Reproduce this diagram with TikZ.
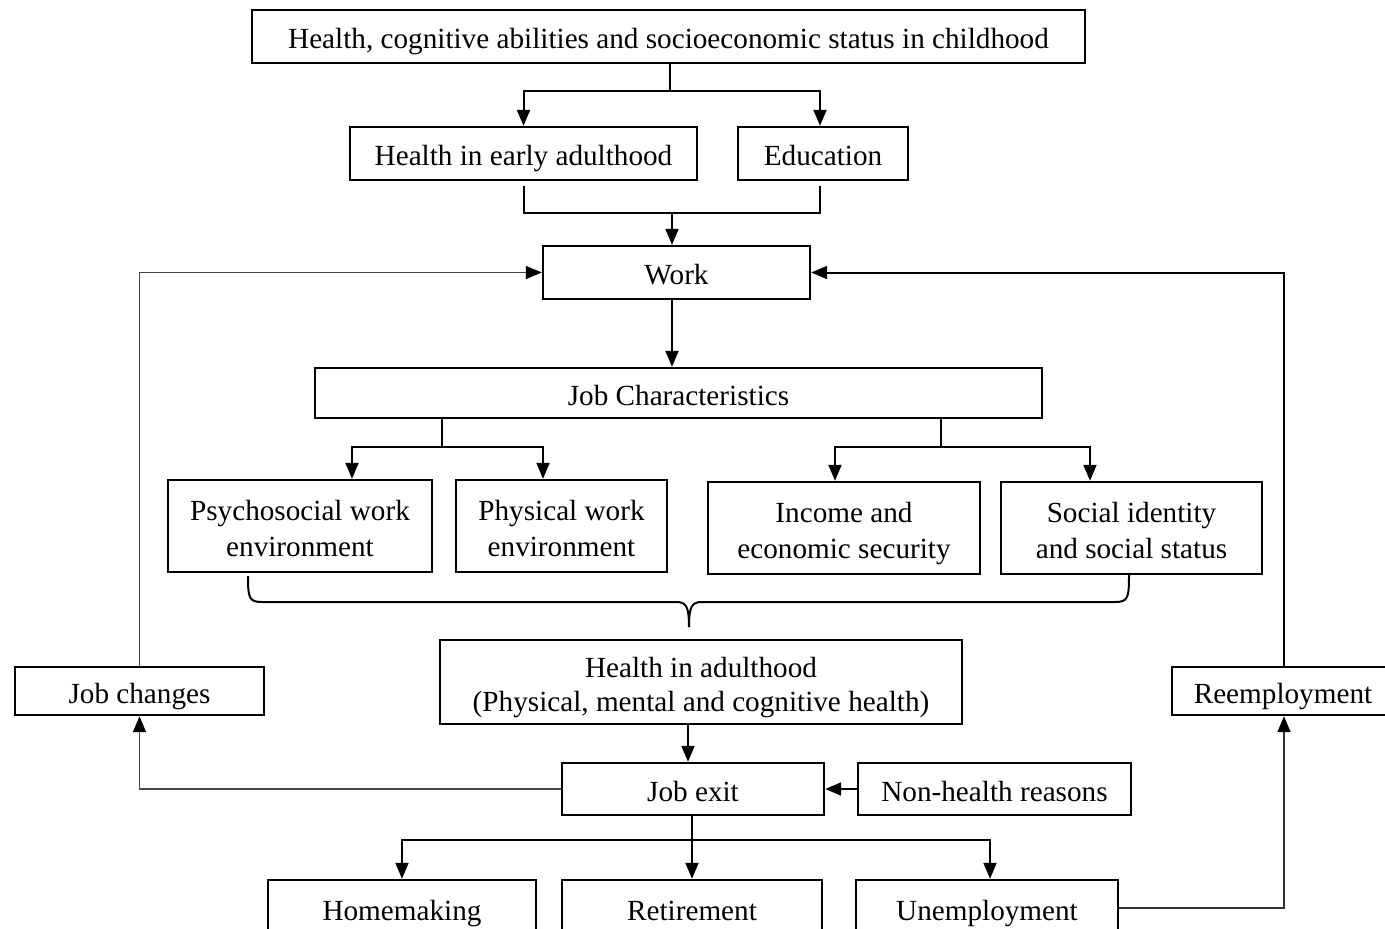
\documentclass[tikz,border=0pt]{standalone}
\usepackage{fontspec}
\setmainfont{Liberation Serif}
\usetikzlibrary{arrows.meta}
\newcommand\vs{\rule[-8pt]{0pt}{40pt}}
\newcommand\vt{\rule[-8pt]{0pt}{28pt}}
\begin{document}
\begin{tikzpicture}[x=1pt,y=-1pt,
  box/.style={draw, line width=2.4pt, inner sep=0pt, align=center, font=\fontsize{29.2}{36}\selectfont},
  ln/.style={line width=2pt},
  arr/.style={line width=2pt, -{Triangle[length=16pt,width=13pt]}},
  lightarr/.style={line width=1.3pt, draw=black!72, -{Triangle[length=16pt,width=13pt,fill=black,color=black]}},
  midarr/.style={line width=1.6pt, draw=black!80, -{Triangle[length=16pt,width=13pt,fill=black,color=black]}},
]
\path[use as bounding box] (0,0) rectangle (1385,929);
\fill[white] (0,0) rectangle (1385,929);
\clip (0,0) rectangle (1385,929);

% nodes
\node[box, minimum width=833pt, minimum height=53pt] (top) at (668.5,36.5) {\vs Health, cognitive abilities and socioeconomic status in childhood};
\node[box, minimum width=347pt, minimum height=53pt] (hea) at (523.5,153.5) {\vs Health in early adulthood};
\node[box, minimum width=170pt, minimum height=53pt] (edu) at (823,153.5) {\vs Education};
\node[box, minimum width=267pt, minimum height=53pt] (work) at (676.5,272.5) {\vs Work};
\node[box, minimum width=727pt, minimum height=50pt] (jc) at (678.5,393) {\vs Job Characteristics};
\node[box, minimum width=264pt, minimum height=92pt] (psy) at (300,526) {\vs Psychosocial work\\\vt environment};
\node[box, minimum width=211pt, minimum height=92pt] (phy) at (561.5,526) {\vs Physical work\\\vt environment};
\node[box, minimum width=272pt, minimum height=92pt] (inc) at (844,528) {\vs Income and\\\vt economic security};
\node[box, minimum width=261pt, minimum height=92pt] (soc) at (1131.5,528) {\vs Social identity\\\vt and social status};
\node[box, minimum width=522pt, minimum height=84pt, font=\fontsize{29.2}{34}\selectfont] (ha) at (701,682) {\vs Health in adulthood\\\vt (Physical, mental and cognitive health)};
\node[box, minimum width=262pt, minimum height=52pt] (jx) at (693,789) {\vs Job exit};
\node[box, minimum width=273pt, minimum height=52pt] (nh) at (994.5,789) {\vs Non-health reasons};
\node[box, minimum width=249pt, minimum height=48pt] (jch) at (139.5,691) {\vs Job changes};
\node[box, minimum width=228pt, minimum height=48pt] (re) at (1286,691) {\hspace*{-6pt}\vs Reemployment};
\node[box, minimum width=268pt, minimum height=56pt] (home) at (402,908) {\vs Homemaking};
\node[box, minimum width=260pt, minimum height=56pt] (ret) at (692,908) {\vs Retirement};
\node[box, minimum width=262pt, minimum height=56pt] (une) at (987,908) {\vs Unemployment};

% top branching
\coordinate (b1) at (670,91);
\draw[ln] (top.south -| b1) -- (b1);
\draw[arr] (b1) -| (hea.north);
\draw[arr] (b1) -| ([xshift=-3pt]edu.north);

% merge into work
\coordinate (m1) at (672,213);
\draw[ln] ([yshift=-5pt]hea.south) |- (m1);
\draw[ln] ([xshift=-3pt,yshift=-5pt]edu.south) |- (m1);
\draw[arr] (m1) -- (m1 |- work.north);

% work to job characteristics
\draw[arr] ([xshift=-4.5pt]work.south) -- ([xshift=-4.5pt]work.south |- jc.north);

% job characteristics branches
\coordinate (b2) at (442,447);
\draw[ln] (jc.south -| b2) -- (b2);
\draw[arr] (b2) -| ([xshift=52pt]psy.north);
\draw[arr] (b2) -| ([xshift=-18.5pt]phy.north);
\coordinate (b3) at (941,447);
\draw[ln] (jc.south -| b3) -- (b3);
\draw[arr] (b3) -| ([xshift=-9pt]inc.north);
\draw[arr] (b3) -| ([xshift=-41.5pt]soc.north);

% brace
\draw[ln] (248,576) .. controls (248,598) and (249,602) .. (262,602) -- (676,602) .. controls (686,602) and (689,606) .. (689,627);
\draw[ln] (1129,575) .. controls (1129,598) and (1128,602) .. (1115,602) -- (702,602) .. controls (692,602) and (689,606) .. (689,627);

% health in adulthood to job exit
\draw[arr] ([xshift=-13pt]ha.south) -- ([xshift=-13pt]ha.south |- jx.north);
\draw[arr] (nh.west) -- (jx.east);

% job changes loop
\draw[lightarr] (jx.west) -| (jch.south);
\draw[lightarr] (jch.north) |- (work.west);

% reemployment loop
\draw[arr] ([xshift=-2pt]re.north) |- (work.east);
\draw[midarr] (une.east) -| ([xshift=-2pt]re.south);

% job exit to outcomes
\coordinate (b4) at (692,840);
\draw[arr] (jx.south -| b4) -- (b4 |- ret.north);
\draw[arr] (b4) -| (home.north);
\draw[arr] (b4) -| ([xshift=3pt]une.north);
\end{tikzpicture}
\end{document}
